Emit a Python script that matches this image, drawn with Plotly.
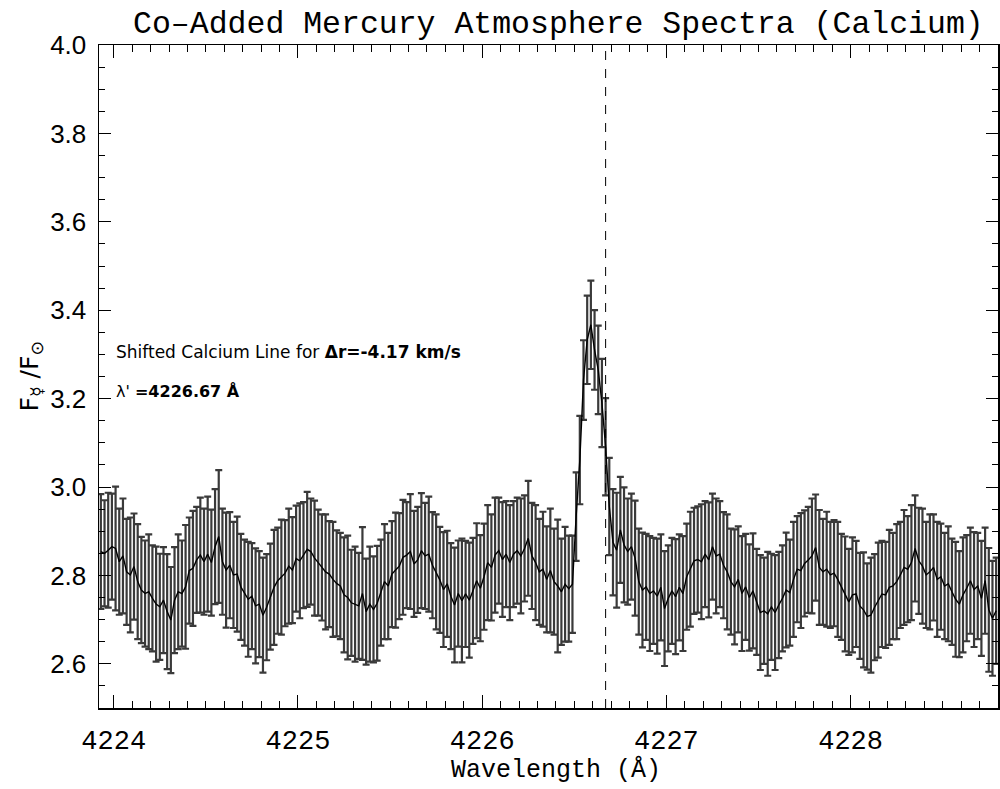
import numpy as np
import plotly.graph_objects as go

# Co-added spectrum values (ratio F_mercury / F_sun)
flux = [
    2.854, 2.850, 2.857, 2.865, 2.861, 2.831, 2.844, 2.808, 2.801, 2.820,
    2.786, 2.767, 2.759, 2.763, 2.748, 2.735, 2.729, 2.744, 2.718, 2.699,
    2.744, 2.763, 2.759, 2.774, 2.811, 2.816, 2.835, 2.846, 2.831, 2.848,
    2.829, 2.865, 2.888, 2.831, 2.812, 2.823, 2.801, 2.803, 2.774, 2.761,
    2.746, 2.753, 2.731, 2.735, 2.710, 2.728, 2.752, 2.773, 2.788, 2.796,
    2.805, 2.821, 2.812, 2.838, 2.833, 2.846, 2.859, 2.854, 2.839, 2.829,
    2.818, 2.808, 2.803, 2.791, 2.782, 2.776, 2.756, 2.750, 2.738, 2.735,
    2.731, 2.759, 2.718, 2.735, 2.723, 2.737, 2.761, 2.786, 2.776, 2.803,
    2.812, 2.821, 2.841, 2.846, 2.854, 2.826, 2.835, 2.856, 2.844, 2.848,
    2.823, 2.808, 2.790, 2.768, 2.781, 2.753, 2.733, 2.759, 2.743, 2.758,
    2.744, 2.765, 2.788, 2.771, 2.797, 2.829, 2.818, 2.846, 2.856, 2.836,
    2.848, 2.829, 2.848, 2.856, 2.844, 2.861, 2.884, 2.844, 2.829, 2.808,
    2.814, 2.791, 2.811, 2.786, 2.776, 2.763, 2.780, 2.770, 2.780, 2.933,
    3.061, 3.242, 3.333, 3.367, 3.310, 3.265, 3.190, 3.091, 2.956, 2.875,
    2.857, 2.903, 2.869, 2.854, 2.865, 2.839, 2.786, 2.767, 2.774, 2.759,
    2.765, 2.753, 2.773, 2.725, 2.748, 2.765, 2.752, 2.773, 2.759, 2.797,
    2.814, 2.833, 2.836, 2.831, 2.848, 2.835, 2.865, 2.844, 2.848, 2.823,
    2.808, 2.786, 2.774, 2.791, 2.759, 2.774, 2.750, 2.765, 2.740, 2.716,
    2.720, 2.713, 2.729, 2.716, 2.733, 2.748, 2.767, 2.761, 2.791, 2.814,
    2.811, 2.827, 2.835, 2.844, 2.863, 2.818, 2.808, 2.814, 2.801, 2.805,
    2.791, 2.774, 2.758, 2.740, 2.756, 2.758, 2.731, 2.722, 2.707, 2.710,
    2.728, 2.744, 2.758, 2.756, 2.773, 2.776, 2.786, 2.801, 2.818, 2.814,
    2.829, 2.861, 2.833, 2.821, 2.801, 2.808, 2.818, 2.791, 2.797, 2.776,
    2.781, 2.763, 2.746, 2.735, 2.756, 2.771, 2.788, 2.768, 2.776, 2.748,
    2.788, 2.722, 2.703, 2.720,
]

flux_err = [
    0.13, 0.12, 0.13, 0.12, 0.14, 0.12, 0.13, 0.12, 0.13, 0.12,
    0.13, 0.12, 0.12, 0.13, 0.12, 0.13, 0.12, 0.12, 0.13, 0.12,
    0.12, 0.13, 0.12, 0.14, 0.12, 0.13, 0.12, 0.13, 0.12, 0.13,
    0.12, 0.13, 0.15, 0.12, 0.13, 0.12, 0.12, 0.13, 0.12, 0.12,
    0.13, 0.12, 0.13, 0.12, 0.13, 0.12, 0.12, 0.13, 0.12, 0.13,
    0.12, 0.13, 0.12, 0.12, 0.13, 0.12, 0.13, 0.12, 0.13, 0.12,
    0.12, 0.13, 0.12, 0.13, 0.12, 0.12, 0.13, 0.14, 0.12, 0.13,
    0.12, 0.15, 0.12, 0.13, 0.12, 0.13, 0.12, 0.13, 0.12, 0.12,
    0.13, 0.12, 0.13, 0.12, 0.13, 0.12, 0.12, 0.13, 0.12, 0.13,
    0.12, 0.13, 0.12, 0.13, 0.12, 0.12, 0.13, 0.12, 0.14, 0.12,
    0.13, 0.12, 0.13, 0.12, 0.12, 0.13, 0.12, 0.13, 0.12, 0.13,
    0.12, 0.13, 0.12, 0.12, 0.13, 0.12, 0.13, 0.12, 0.13, 0.12,
    0.13, 0.12, 0.14, 0.12, 0.15, 0.12, 0.13, 0.12, 0.11, 0.10,
    0.10, 0.09, 0.10, 0.10, 0.09, 0.10, 0.10, 0.11, 0.11, 0.12,
    0.13, 0.12, 0.13, 0.12, 0.12, 0.13, 0.12, 0.13, 0.12, 0.13,
    0.12, 0.13, 0.12, 0.13, 0.12, 0.12, 0.13, 0.12, 0.13, 0.12,
    0.13, 0.12, 0.12, 0.13, 0.12, 0.13, 0.12, 0.13, 0.12, 0.12,
    0.13, 0.12, 0.13, 0.12, 0.13, 0.12, 0.12, 0.13, 0.12, 0.13,
    0.12, 0.14, 0.12, 0.13, 0.12, 0.12, 0.13, 0.12, 0.13, 0.12,
    0.13, 0.12, 0.12, 0.13, 0.12, 0.13, 0.12, 0.13, 0.12, 0.12,
    0.13, 0.12, 0.13, 0.12, 0.13, 0.12, 0.12, 0.13, 0.12, 0.13,
    0.12, 0.13, 0.12, 0.12, 0.13, 0.12, 0.13, 0.12, 0.13, 0.12,
    0.13, 0.12, 0.12, 0.13, 0.12, 0.13, 0.12, 0.13, 0.12, 0.12,
    0.13, 0.12, 0.13, 0.12, 0.13, 0.12, 0.12, 0.13, 0.12, 0.13,
    0.12, 0.14, 0.13, 0.12,
]

# wavelength sampling grid (Angstrom)
wl_start = 4223.93
wl_step = 0.02
wavelength = wl_start + wl_step * np.arange(len(flux))

shifted_line = 4226.67
x_ticks = [4224, 4225, 4226, 4227, 4228]
y_ticks = [2.6, 2.8, 3.0, 3.2, 3.4, 3.6, 3.8, 4.0]

fig = go.Figure()
fig.add_trace(go.Scatter(
    x=wavelength, y=flux, mode="lines",
    line=dict(color="black", width=1.4),
    error_y=dict(type="data", array=flux_err, visible=True,
                 color="#3a3a3a", thickness=2.2, width=3.5),
    showlegend=False, hoverinfo="skip",
))

fig.add_shape(type="line", xref="x", yref="paper",
              x0=shifted_line, x1=shifted_line, y0=0, y1=1,
              line=dict(color="black", width=1, dash="dash"))

mono = "Liberation Mono"
sans = "DejaVu Sans"

fig.update_layout(
    width=1000, height=789,
    margin=dict(l=99, r=2, t=45, b=81, autoexpand=False),
    paper_bgcolor="white", plot_bgcolor="white",
    hovermode=False,
    title=dict(text="Co\u2013Added Mercury Atmosphere Spectra (Calcium)",
               font=dict(family=mono, size=31.5, color="black"),
               x=0.511, xref="paper", xanchor="center",
               y=1 - 22 / 789, yref="container", yanchor="middle",
               automargin=False),
    xaxis=dict(range=[4223.92, 4228.80], tickvals=x_ticks,
               ticktext=[str(v) for v in x_ticks],
               ticks="inside", ticklen=13, tickwidth=1, tickcolor="black",
               minor=dict(dtick=0.1, tick0=4224, ticks="inside", ticklen=7,
                          tickwidth=1, tickcolor="black", showgrid=False),
               showline=True, linecolor="black", linewidth=1.5, mirror="allticks",
               showgrid=False, zeroline=False, automargin=False,
               tickfont=dict(family=mono, size=27, color="black"),
               ticklabelstandoff=7),
    yaxis=dict(range=[2.5, 4.0], tickvals=y_ticks,
               ticktext=["%.1f" % v for v in y_ticks],
               ticks="inside", ticklen=12, tickwidth=1, tickcolor="black",
               minor=dict(dtick=0.05, tick0=2.5, ticks="inside", ticklen=6,
                          tickwidth=1, tickcolor="black", showgrid=False),
               showline=True, linecolor="black", linewidth=1.5, mirror="allticks",
               showgrid=False, zeroline=False, automargin=False,
               tickfont=dict(family="Liberation Sans", size=26, color="black"),
               ticklabelstandoff=6),
)

fig.add_annotation(text="Wavelength (\u00c5)", xref="paper", yref="paper",
                   x=0.5, y=0, yshift=-62, xshift=7, xanchor="center", yanchor="middle",
                   showarrow=False, font=dict(family=mono, size=25, color="black"))
fig.add_annotation(text="F<sub>\u263f</sub> /F<sub>\u2299</sub>", xref="paper", yref="paper",
                   x=0, y=0.5, xshift=-69, xanchor="center", yanchor="middle",
                   textangle=-90, showarrow=False,
                   font=dict(family=sans, size=25, color="black"))
fig.add_annotation(text="Shifted Calcium Line for <b>\u0394r=-4.17 km/s</b>",
                   xref="x", yref="y", x=4224.0, y=3.306, xanchor="left", yanchor="middle",
                   showarrow=False, font=dict(family=sans, size=17, color="black"))
fig.add_annotation(text="\u03bb' <b>=4226.67 \u00c5</b>",
                   xref="x", yref="y", x=4224.0, y=3.215, xanchor="left", yanchor="middle",
                   showarrow=False, font=dict(family=sans, size=16, color="black"))

fig.write_html("out.html", config={"displayModeBar": False, "staticPlot": True},
               post_script="document.body.style.margin='0px';document.body.style.overflow='hidden';")
